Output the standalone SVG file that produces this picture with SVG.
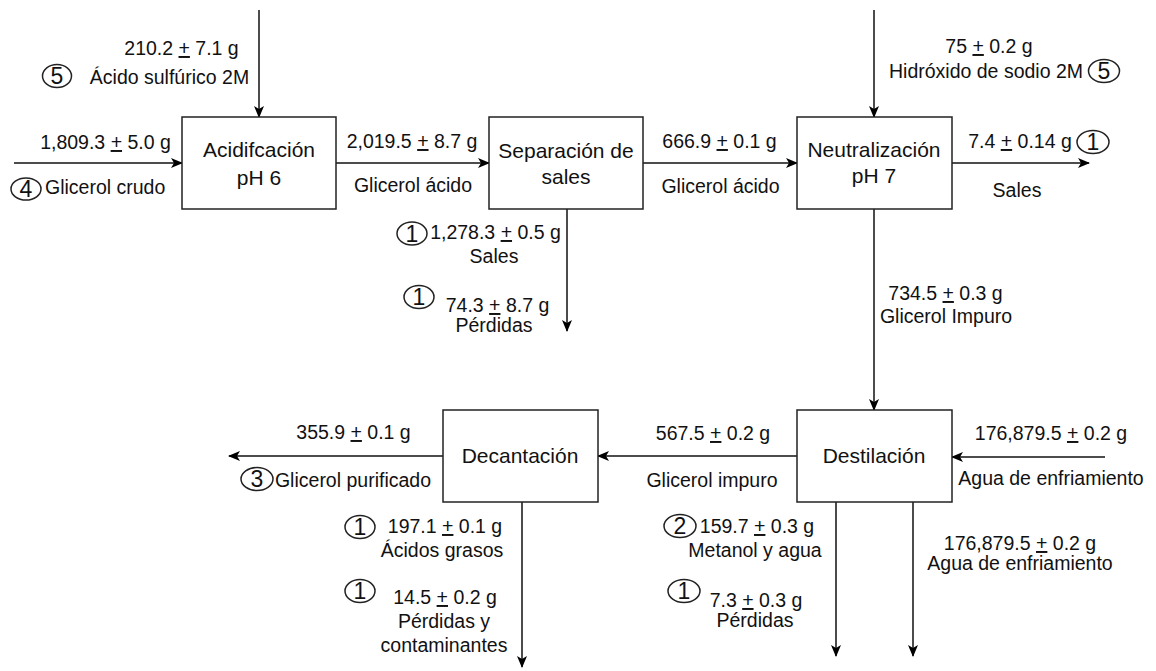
<svg xmlns="http://www.w3.org/2000/svg" width="1156" height="671" viewBox="0 0 1156 671">
<defs>
<marker id="ah" viewBox="0 0 12 10" refX="11" refY="5" markerWidth="12" markerHeight="10" markerUnits="userSpaceOnUse" orient="auto">
<path d="M0,0 L12,5 L0,10 L3,5 z" fill="#000"/>
</marker>
<style>
.box{fill:#fff;stroke:#222;stroke-width:1.5}
.bl{font-family:"Liberation Sans",Arial,sans-serif;font-size:21px;fill:#111;text-anchor:middle}
.el{font-family:"Liberation Sans",Arial,sans-serif;font-size:19.5px;fill:#111;text-anchor:middle}
.st{text-anchor:start}
.cn{fill:none;stroke:#222;stroke-width:1.5}
.cd{font-family:"Liberation Sans",Arial,sans-serif;font-size:23px;fill:#111;text-anchor:middle}
.ln{fill:none;stroke:#111;stroke-width:1.5;marker-end:url(#ah)}
.u{text-decoration:underline}
</style>
</defs>
<rect width="1156" height="671" fill="#fff"/>

<g id="connectors">
<line class="ln" x1="14" y1="163" x2="182" y2="163"/>
<line class="ln" x1="259" y1="10" x2="259" y2="117"/>
<line class="ln" x1="336" y1="163" x2="489" y2="163"/>
<line class="ln" x1="643" y1="163" x2="797" y2="163"/>
<line class="ln" x1="874" y1="10" x2="874" y2="117"/>
<line class="ln" x1="952" y1="163" x2="1089" y2="163"/>
<line class="ln" x1="567" y1="209" x2="567" y2="331"/>
<line class="ln" x1="874" y1="209" x2="874" y2="410"/>
<line class="ln" x1="1105" y1="457" x2="952" y2="457"/>
<line class="ln" x1="797" y1="456" x2="598" y2="456"/>
<line class="ln" x1="443" y1="456" x2="229" y2="456"/>
<line class="ln" x1="522" y1="502" x2="522" y2="667"/>
<line class="ln" x1="836" y1="502" x2="836" y2="656"/>
<line class="ln" x1="913" y1="502" x2="913" y2="656"/>
</g>

<g id="acidificacion">
<rect class="box" x="182" y="117" width="154" height="92"/>
<text class="bl" x="259" y="157">Acidifcación</text>
<text class="bl" x="259" y="185">pH 6</text>
</g>
<g id="separacion">
<rect class="box" x="489" y="117" width="154" height="92"/>
<text class="bl" x="566" y="158">Separación de</text>
<text class="bl" x="566" y="184">sales</text>
</g>
<g id="neutralizacion">
<rect class="box" x="797" y="117" width="155" height="92"/>
<text class="bl" x="874" y="157">Neutralización</text>
<text class="bl" x="874" y="183">pH 7</text>
</g>
<g id="destilacion">
<rect class="box" x="797" y="410" width="155" height="92"/>
<text class="bl" x="874" y="463">Destilación</text>
</g>
<g id="decantacion">
<rect class="box" x="443" y="410" width="155" height="92"/>
<text class="bl" x="520" y="463">Decantación</text>
</g>

<g id="labels">
<text class="el" x="181.5" y="55">210.2 <tspan class="u">+</tspan> 7.1 g</text>
<ellipse class="cn" cx="57" cy="76" rx="14.5" ry="11.5"/><text class="cd" x="57" y="84">5</text>
<text class="el" x="169.5" y="84">Ácido sulfúrico 2M</text>
<text class="el" x="105.5" y="149">1,809.3 <tspan class="u">+</tspan> 5.0 g</text>
<ellipse class="cn" cx="26" cy="189" rx="15" ry="11"/><text class="cd" x="26" y="197">4</text>
<text class="el st" x="45" y="194">Glicerol crudo</text>

<text class="el" x="412" y="148">2,019.5 <tspan class="u">+</tspan> 8.7 g</text>
<text class="el" x="413" y="192">Glicerol ácido</text>
<ellipse class="cn" cx="412" cy="233.5" rx="15" ry="11.5"/><text class="cd" x="412" y="241.5">1</text>
<text class="el" x="495.5" y="239">1,278.3 <tspan class="u">+</tspan> 0.5 g</text>
<text class="el" x="494" y="263">Sales</text>
<ellipse class="cn" cx="419" cy="297" rx="15" ry="11.5"/><text class="cd" x="419" y="305">1</text>
<text class="el" x="497.5" y="312">74.3 <tspan class="u">+</tspan> 8.7 g</text>
<text class="el" x="494" y="332">Pérdidas</text>

<text class="el" x="989" y="53">75 <tspan class="u">+</tspan> 0.2 g</text>
<text class="el" x="986" y="78">Hidróxido de sodio 2M</text>
<ellipse class="cn" cx="1104" cy="71" rx="15.5" ry="11.5"/><text class="cd" x="1104" y="79">5</text>
<text class="el" x="719.5" y="148">666.9 <tspan class="u">+</tspan> 0.1 g</text>
<text class="el" x="720.5" y="193">Glicerol ácido</text>
<text class="el" x="1020" y="148">7.4 <tspan class="u">+</tspan> 0.14 g</text>
<ellipse class="cn" cx="1093" cy="142" rx="16" ry="11.5"/><text class="cd" x="1093" y="150">1</text>
<text class="el" x="1017" y="197">Sales</text>

<text class="el" x="945.5" y="300">734.5 <tspan class="u">+</tspan> 0.3 g</text>
<text class="el" x="946" y="323">Glicerol Impuro</text>
<text class="el" x="1051" y="440">176,879.5 <tspan class="u">+</tspan> 0.2 g</text>
<text class="el" x="1051" y="485">Agua de enfriamiento</text>
<text class="el" x="713" y="440">567.5 <tspan class="u">+</tspan> 0.2 g</text>
<text class="el" x="712" y="487">Glicerol impuro</text>

<text class="el" x="353.5" y="439">355.9 <tspan class="u">+</tspan> 0.1 g</text>
<ellipse class="cn" cx="257" cy="479" rx="16" ry="11.5"/><text class="cd" x="257" y="487">3</text>
<text class="el" x="353" y="487">Glicerol purificado</text>
<ellipse class="cn" cx="360" cy="527" rx="15" ry="11.5"/><text class="cd" x="360" y="535">1</text>
<text class="el" x="445" y="533">197.1 <tspan class="u">+</tspan> 0.1 g</text>
<text class="el" x="442" y="557">Ácidos grasos</text>
<ellipse class="cn" cx="360" cy="591" rx="15" ry="11.5"/><text class="cd" x="360" y="599">1</text>
<text class="el" x="445" y="604">14.5 <tspan class="u">+</tspan> 0.2 g</text>
<text class="el" x="444" y="628">Pérdidas y</text>
<text class="el" x="444" y="652">contaminantes</text>

<ellipse class="cn" cx="680" cy="526" rx="16" ry="11.5"/><text class="cd" x="680" y="534">2</text>
<text class="el" x="757" y="533">159.7 <tspan class="u">+</tspan> 0.3 g</text>
<text class="el" x="755" y="557">Metanol y agua</text>
<ellipse class="cn" cx="684" cy="591" rx="16" ry="11.5"/><text class="cd" x="684" y="599">1</text>
<text class="el" x="756" y="607">7.3 <tspan class="u">+</tspan> 0.3 g</text>
<text class="el" x="755" y="627">Pérdidas</text>
<text class="el" x="1020" y="550">176,879.5 <tspan class="u">+</tspan> 0.2 g</text>
<text class="el" x="1020" y="570">Agua de enfriamiento</text>
</g>
</svg>
